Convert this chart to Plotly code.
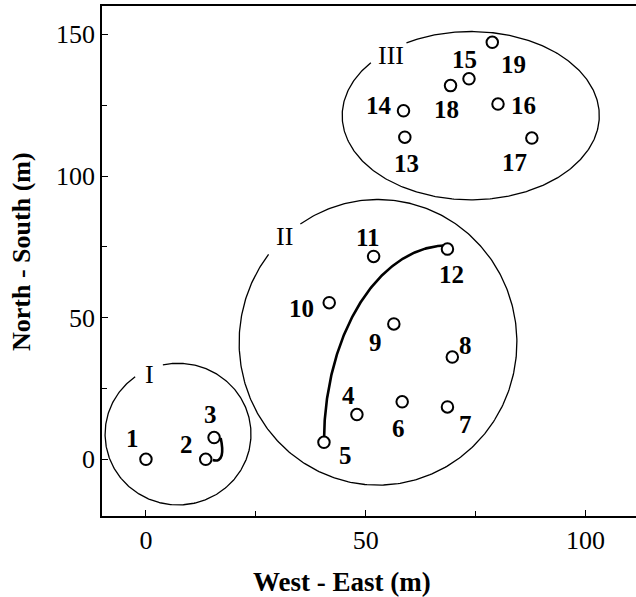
import numpy as np
import plotly.graph_objects as go

# ---- data ----
site_ids = [str(i) for i in range(1, 20)]
west_east = [0.0, 13.6, 15.5, 48.0, 40.5, 58.3, 68.6, 69.7, 56.4, 41.7,
             51.8, 68.6, 58.9, 58.6, 73.5, 80.1, 87.8, 69.3, 78.8]
north_south = [0.0, 0.0, 7.7, 15.8, 6.0, 20.3, 18.5, 36.1, 47.8, 55.3,
               71.6, 74.2, 113.7, 123.0, 134.3, 125.4, 113.4, 131.9, 147.2]
group_names = ["I", "II", "III"]
x_ticks = [0, 50, 100]
y_ticks = [0, 50, 100, 150]

# ---- layout helpers (pixel offsets of the number labels) ----
label_dx = [-13, -19, -4, -8, 22, -4, 18, 13, -18, -28, -6, 4, 2, -25, -4, 25, -17, -4, 21]
label_dy = [-21, -15, -23, -19, 13, 27, 18, -12, 19, 6, -19, 25, 26, -5, -19, 1, 24, 24, 22]

# ellipse geometry for groups: centre, radii (data units), gap angles (deg), label position
groups = [
    dict(cx=7.3, cy=8.9, rx=16.6, ry=25.0, gap=(102, 126), lx=0.8, ly=30.0),
    dict(cx=52.8, cy=41.3, rx=31.6, ry=50.4, gap=(124, 142), lx=31.5, ly=78.6),
    dict(cx=73.9, cy=121.3, rx=29.25, ry=29.7, gap=(120, 141), lx=55.7, ly=142.7),
]

FONT = "Liberation Serif"
fig = go.Figure()

for g in groups:
    t = np.radians(np.linspace(g["gap"][1], g["gap"][0] + 360, 400))
    fig.add_trace(go.Scatter(x=g["cx"] + g["rx"] * np.cos(t), y=g["cy"] + g["ry"] * np.sin(t),
                             mode="lines", line=dict(color="black", width=1.3),
                             hoverinfo="skip", showlegend=False))

# trajectory 5 -> 12 (quarter ellipse)
x5, y5 = west_east[4], north_south[4]
x12, y12 = west_east[11], north_south[11]
t = np.radians(np.linspace(0, 90, 200))
fig.add_trace(go.Scatter(x=x12 - (x12 - x5) * np.cos(t), y=y5 + (y12 + 1.3 - y5) * np.sin(t),
                         mode="lines", line=dict(color="black", width=2.6),
                         hoverinfo="skip", showlegend=False))

# hook 3 -> 2
x2, y2 = west_east[1], north_south[1]
x3, y3 = west_east[2], north_south[2]
fig.add_shape(type="path",
              path=f"M {x3+1.5},{y3-0.2} C {x3+2.2},{y3-5.1} {x3+2.0},{y2-1.3} {x2+1.6},{y2-0.25}",
              line=dict(color="black", width=2.6))

fig.add_trace(go.Scatter(x=west_east, y=north_south, mode="markers",
                         marker=dict(symbol="circle", size=11.5, color="white",
                                     line=dict(color="black", width=2)),
                         hoverinfo="skip", showlegend=False))

for i, s in enumerate(site_ids):
    fig.add_annotation(x=west_east[i], y=north_south[i], text=f"<b>{s}</b>", showarrow=False,
                       xshift=label_dx[i], yshift=-label_dy[i],
                       font=dict(family=FONT, size=25, color="black"))

for name, g in zip(group_names, groups):
    fig.add_annotation(x=g["lx"], y=g["ly"], text=name, showarrow=False,
                       font=dict(family=FONT, size=26, color="black"))

fig.add_annotation(xref="paper", yref="paper", x=(342 - 102) / 534, y=-(582 - 516) / 510,
                   text="<b>West - East (m)</b>", showarrow=False,
                   font=dict(family=FONT, size=27, color="black"), yanchor="middle")
fig.add_annotation(xref="paper", yref="paper", x=-(102 - 22) / 534, y=(516 - 252) / 510,
                   text="<b>North - South (m)</b>", showarrow=False, textangle=-90,
                   font=dict(family=FONT, size=26, color="black"), xanchor="center")

axis_common = dict(showgrid=False, zeroline=False, showline=True, linecolor="black", linewidth=1.6,
                   ticks="inside", ticklen=6, tickwidth=1.2, tickcolor="black",
                   tickfont=dict(family=FONT, size=26, color="black"),
                   minor=dict(ticks="inside", ticklen=5, tickwidth=1.2, tickcolor="black", showgrid=False))
fig.update_xaxes(range=[-10, 111.5], tickvals=x_ticks, ticktext=[str(v) for v in x_ticks],
                 mirror=True, **axis_common)
fig.update_xaxes(minor=dict(tickvals=[25, 75]))
fig.update_yaxes(range=[-20, 160], tickvals=y_ticks, ticktext=[str(v) for v in y_ticks],
                 mirror=False, **axis_common)
fig.update_yaxes(minor=dict(tickvals=[25, 75, 125]))

fig.update_layout(width=636, height=597, margin=dict(l=102, r=0, t=6, b=81),
                  plot_bgcolor="white", paper_bgcolor="white", showlegend=False)

fig.write_html("out.html", config={"displayModeBar": False},
               post_script="document.body.style.margin='0';document.body.style.overflow='hidden';")
